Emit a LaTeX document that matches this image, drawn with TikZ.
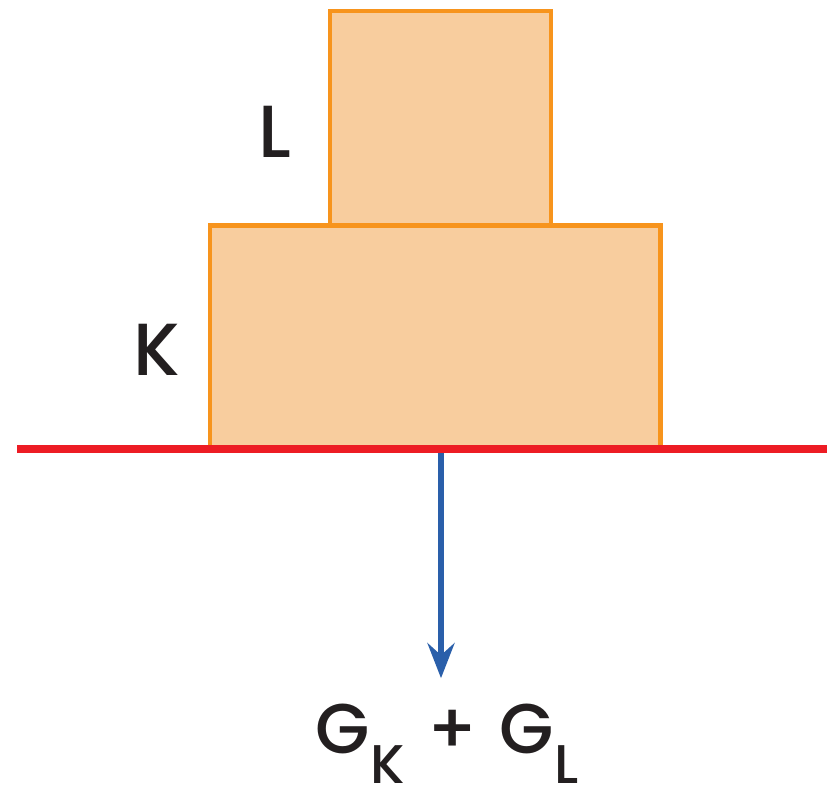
\documentclass[tikz,border=0pt]{standalone}
\usepackage{fontspec}
\setmainfont{Poppins}[UprightFont={* Medium}]
\usepackage{xcolor}
\usetikzlibrary{arrows.meta, positioning, calc}
\definecolor{boxfill}{HTML}{F8CD9E}
\definecolor{boxline}{HTML}{F7941D}
\definecolor{groundred}{HTML}{ED1C24}
\definecolor{forceblue}{HTML}{2A5FAA}
\definecolor{ink}{HTML}{231F20}
\newcommand{\subtxt}[1]{\raisebox{-0.6cm}{\fontsize{31}{31}\selectfont #1}}

\begin{document}
\begin{tikzpicture}[
        x=0.02cm, y=-0.02cm,
        block/.style={rectangle, draw=boxline, fill=boxfill, line width=2.8pt, inner sep=0pt, outer sep=0pt, anchor=south west},
        lbl/.style={font=\fontsize{42}{42}\selectfont, text=ink, anchor=base, inner sep=0pt},
        ground/.style={draw=groundred, line width=4pt},
        arrow/.style={-{Stealth[length=0.7cm, width=0.54cm, inset=0.24cm]}, draw=forceblue, fill=forceblue, line width=3.8pt},
    ]
        \useasboundingbox (0,0) rectangle (827,793);
        \node[block, minimum width=9.02cm, minimum height=4.44cm] (kbox) at (210,447) {};
        \node[block, minimum width=4.42cm, minimum height=4.28cm] (lbox) at (330,225) {};
        \node[lbl] (lname) at (275,158) {L};
        \node[lbl] (kname) at (157,376) {K};
        \node[lbl, font=\fontsize{40}{40}\selectfont] (sum) at (447,753) {G\subtxt{K}\hspace{0.45cm}+\hspace{0.45cm}G\subtxt{L}};

        \coordinate (force) at (441,449);
        \draw[arrow, shorten >=0.5cm] (force) -- (force |- sum.north);
        \coordinate (gleft) at (17,449);
        \coordinate (gright) at (827,449);
        \draw[ground] (gleft) -- (gright);
    \end{tikzpicture}
\end{document}
